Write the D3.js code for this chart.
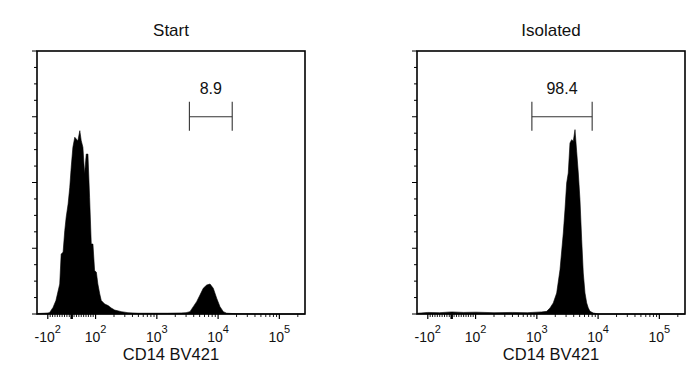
<!DOCTYPE html>
<html><head><meta charset="utf-8">
<script src="https://cdn.jsdelivr.net/npm/d3@7"></script>
<style>body{margin:0;background:#fff;} text{font-family:"Liberation Sans",Arial,sans-serif;fill:#111;}</style>
</head><body><svg id="c" width="700" height="375"></svg>
<script>
// ---- data ----
const panelTitles = ["Start", "Isolated"];
const axisTitle = "CD14 BV421";
const gateLabels = ["8.9", "98.4"];
const gateRanges = [[3400, 17000], [830, 8000]];
// histogram 1 (Start): fluorescence value, height (% of scale)
const startX = [-150,-145,-115,-99,-92,-78,-66,-50,-44,-36,-29,-23,-15,-8,-2,5,13,19,26,34,40,47,54,61,68,75,82,89,96,103,109,117,124,141,160,180,205,263,338,492,800,1500,2500,3000,3475,3936,4467,5058,5728,6516,7379,8337,9484,10740,12160,13800,20000,60000,262144];
const startY = [0,0.2,0.3,0.4,0.6,2.5,5.1,11.4,22.8,23.5,31.7,36.8,41.8,48.2,55.8,63.4,67.2,66.5,65.9,69.7,65.9,63.4,53.2,60.8,60.8,44.4,26.6,26.6,16.5,15.9,11.4,7.6,5.1,3.8,3.2,2.3,1.5,0.9,0.5,0.3,0.3,0.3,0.4,0.5,0.9,2.8,4.7,7.2,9.8,11.0,11.4,9.8,6.0,2.8,0.9,0.3,0.1,0,0];
// histogram 2 (Isolated)
const isoX = [-150,-145,-100,-50,0,50,100,200,400,700,1000,1200,1449,1641,1854,2109,2388,2704,2877,3069,3258,3475,3707,3936,4198,4467,4753,5058,5395,5728,6109,6516,6918,7379,8337,10000,262144];
const isoY = [0,0.3,0.6,0.5,0.8,0.6,0.7,0.5,0.6,0.5,0.7,0.8,1.0,2.3,4.2,8.0,16.8,30.8,39.5,49.8,53.6,65.0,66.3,65.7,70.1,61.9,53.6,43.5,28.3,15.6,8.0,4.2,2.3,1.0,0.4,0,0];
const majorTicks = [-100, 0, 100, 1000, 10000, 100000];
const tickLabels = [["-10","2"], null, ["10","2"], ["10","3"], ["10","4"], ["10","5"]];
const minorTicks = [-90,-80,-70,-60,-50,-40,-30,-20,-10,10,20,30,40,50,60,70,80,90,
  200,300,400,500,600,700,800,900,2000,3000,4000,5000,6000,7000,8000,9000,
  20000,30000,40000,50000,60000,70000,80000,90000,200000];

// ---- layout ----
const svg = d3.select("#c");
const W = 268, H = 263, topY = 51;
const lefts = [37, 417];
const A = 0.39;
function tf(v){ const m = Math.abs(v); return m <= 100 ? A*v/100 : Math.sign(v)*(A + Math.log10(m/100)); }
const x = d3.scaleLinear().domain([tf(-150), tf(262144)]).range([0, W]);
const y = d3.scaleLinear().domain([0, 100]).range([H, 0]);

const series = [[startX, startY], [isoX, isoY]];

series.forEach(([xs, ys], i) => {
  const g = svg.append("g").attr("transform", `translate(${lefts[i]},${topY})`);
  const pts = xs.map((v, j) => [v, ys[j]]);
  const area = d3.area().x(d => x(tf(d[0]))).y0(H).y1(d => y(d[1]));
  g.append("path").datum(pts).attr("d", area).attr("fill", "#000").attr("stroke", "#000").attr("stroke-width", 0.6);

  // box
  g.append("rect").attr("x", 0).attr("y", 0).attr("width", W).attr("height", H)
    .attr("fill", "none").attr("stroke", "#000").attr("stroke-width", 1.6);

  // y ticks
  const yMinor = d3.range(0, 100.01, 6.25);
  g.selectAll(".yt").data(yMinor).join("line")
    .attr("x1", 0).attr("x2", d => (d % 25 === 0) ? -5 : -3)
    .attr("y1", d => y(d)).attr("y2", d => y(d))
    .attr("stroke", "#000").attr("stroke-width", 1);

  // x ticks
  g.selectAll(".xm").data(minorTicks).join("line")
    .attr("x1", d => x(tf(d))).attr("x2", d => x(tf(d)))
    .attr("y1", H).attr("y2", H + 3).attr("stroke", "#000").attr("stroke-width", 0.9);
  g.selectAll(".xM").data(majorTicks).join("line")
    .attr("x1", d => x(tf(d))).attr("x2", d => x(tf(d)))
    .attr("y1", H).attr("y2", H + 5).attr("stroke", "#000").attr("stroke-width", d => d === 0 ? 2.5 : 1.2);

  majorTicks.forEach((v, j) => {
    const lab = tickLabels[j];
    if (!lab) return;
    const t = g.append("text").attr("x", x(tf(v))).attr("y", H + 27.5)
      .attr("text-anchor", "middle").attr("font-size", 14);
    t.append("tspan").text(lab[0]);
    t.append("tspan").attr("dy", -9).attr("font-size", 11).text(lab[1]);
  });

  // axis title
  g.append("text").attr("x", W/2).attr("y", H + 45.5).attr("text-anchor", "middle")
    .attr("font-size", 16.5).text(axisTitle);
  // panel title
  g.append("text").attr("x", W/2).attr("y", 36 - topY).attr("text-anchor", "middle")
    .attr("font-size", 17).text(panelTitles[i]);

  // gate
  const [g0, g1] = gateRanges[i].map(v => x(tf(v)));
  const gy = 116.7 - topY;
  const gate = g.append("g").attr("stroke", "#333").attr("stroke-width", 1.1);
  gate.append("line").attr("x1", g0).attr("x2", g1).attr("y1", gy).attr("y2", gy);
  gate.append("line").attr("x1", g0).attr("x2", g0).attr("y1", gy - 15).attr("y2", gy + 14);
  gate.append("line").attr("x1", g1).attr("x2", g1).attr("y1", gy - 15).attr("y2", gy + 14);
  g.append("text").attr("x", (g0 + g1)/2).attr("y", 94 - topY).attr("text-anchor", "middle")
    .attr("font-size", 16).text(gateLabels[i]);
});
</script></body></html>
